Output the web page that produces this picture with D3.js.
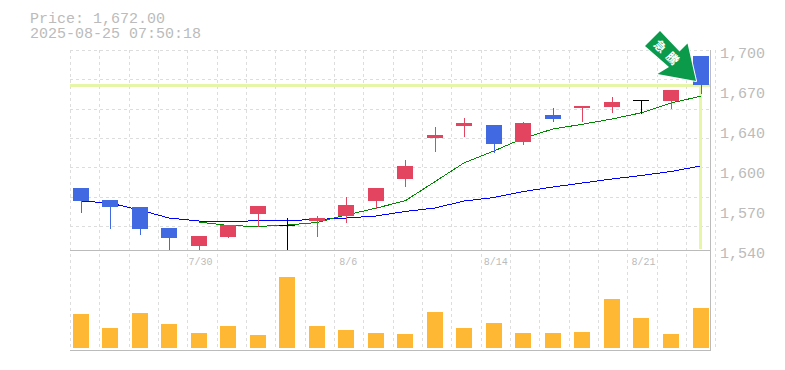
<!DOCTYPE html>
<html>
<head>
<meta charset="utf-8">
<script src="https://cdnjs.cloudflare.com/ajax/libs/d3/7.9.0/d3.min.js"></script>
<style>
html, body { margin: 0; padding: 0; background: #fff; }
text { font-family: "Liberation Mono", monospace; fill: #bbb; }
</style>
</head>
<body>
<div id="chart"></div>
<script>
const dates = ['7/24', '7/25', '7/28', '7/29', '7/30', '7/31', '8/1', '8/4', '8/5', '8/6', '8/7',
    '8/8', '8/12', '8/13', '8/14', '8/15', '8/18', '8/19', '8/20', '8/21', '8/22', '8/25'];
const opens = [1590, 1580, 1574.4, 1557.6, 1543.2, 1550.4, 1568.8, 1560, 1563.2, 1567.2, 1579.2,
    1596.8, 1629.6, 1639.2, 1640, 1626.4, 1648, 1653.6, 1654.4, 1660, 1659.2, 1695.2];
const highs = [1590, 1580, 1574.4, 1557.6, 1551.2, 1560, 1575.2, 1565.6, 1567.2, 1582.4, 1589.6,
    1612, 1638.4, 1645.6, 1640, 1642.4, 1653.6, 1655.2, 1662.4, 1660, 1668, 1695.2];
const lows = [1570.4, 1557.6, 1552.8, 1540, 1540, 1550.4, 1559.2, 1540, 1551.2, 1562.4, 1573.6,
    1591.2, 1619.2, 1631.2, 1618.4, 1624.8, 1643.2, 1643.2, 1650.4, 1650, 1653.6, 1665.6];
const closes = [1579.2, 1574.4, 1556.8, 1549.6, 1551.2, 1560, 1575.2, 1560, 1565.6, 1576, 1589.6,
    1607.2, 1632, 1641.6, 1624.8, 1641.6, 1644.8, 1655.2, 1658.4, 1660, 1668, 1672];
const maLong = [1579.2, 1577.6, 1572, 1565.6, 1563.2, 1562.4, 1563.6, 1563.6, 1564.4, 1565.6, 1567.2,
    1570.8, 1573.6, 1579.2, 1582, 1586.8, 1590.4, 1593.6, 1596.8, 1599.6, 1602.8, 1607.2];
const maShort = [null, null, null, null, 1562.4, 1559.6, 1558.8, 1560, 1562, 1568, 1573.4,
    1579.4, 1594.6, 1609.8, 1619.2, 1629.4, 1636.8, 1640.6, 1644.8, 1649.8, 1657.6, 1663];
const volumes = [34, 20, 35, 24, 15, 22, 13, 71, 22, 18, 15, 14, 36, 20, 25, 15, 15, 16, 49, 30, 14, 40];
const priceTicks = [1700, 1668, 1636, 1604, 1572, 1540];
const priceLabels = ['1,700', '1,670', '1,640', '1,600', '1,570', '1,540'];
const dateLabels = ['7/30', '8/6', '8/14', '8/21'];
const currentPrice = 1672;
const titleLines = ['Price: 1,672.00', '2025-08-25 07:50:18'];
const badgeText = ['急', '騰'];

const width = 785,
    height = 370,
    plot = {left: 70, right: 710, top: 50, bottom: 250, volBottom: 350},
    candleWidth = 16,
    gridStep = 29.33;

const upColor = '#e34460',
    downColor = '#4169e1',
    flatColor = '#000',
    axisColor = '#bbb',
    gridColor = '#ddd',
    hiliteColor = '#e5f6a8';

const svg = d3.select('#chart').append('svg')
    .attr('width', width)
    .attr('height', height)
    .style('display', 'block');

const xScale = d3.scalePoint()
    .domain(dates)
    .range([80.5, 700.5]);

const yScale = d3.scaleLinear()
    .domain([1540, 1700])
    .range([plot.bottom, plot.top]);

const volScale = d3.scaleLinear()
    .domain([0, 71])
    .range([348, 277]);

svg.append('clipPath')
    .attr('id', 'price-clip')
    .append('rect')
    .attr('x', plot.left)
    .attr('y', plot.top)
    .attr('width', plot.right - plot.left)
    .attr('height', plot.bottom - plot.top);

// grid
const grid_g = svg.append('g')
    .attr('stroke', gridColor)
    .attr('stroke-dasharray', '3,3')
    .attr('shape-rendering', 'crispEdges');

grid_g.selectAll('line.v')
    .data(d3.range(23))
    .join('line')
    .attr('class', 'v')
    .attr('x1', d => Math.round(plot.left + d * gridStep) + 0.5)
    .attr('x2', d => Math.round(plot.left + d * gridStep) + 0.5)
    .attr('y1', plot.top)
    .attr('y2', plot.volBottom);

grid_g.selectAll('line.h')
    .data(d3.range(7))
    .join('line')
    .attr('class', 'h')
    .attr('x1', plot.left)
    .attr('x2', plot.right)
    .attr('y1', d => Math.round(plot.top + d * gridStep) + 0.5)
    .attr('y2', d => Math.round(plot.top + d * gridStep) + 0.5);

// current price marker
const hilite_g = svg.append('g')
    .attr('stroke', hiliteColor)
    .attr('stroke-width', 3)
    .attr('shape-rendering', 'crispEdges');

hilite_g.append('line')
    .attr('x1', plot.left)
    .attr('x2', plot.right)
    .attr('y1', yScale(currentPrice) + 0.5)
    .attr('y2', yScale(currentPrice) + 0.5);

hilite_g.append('line')
    .attr('x1', xScale(dates[dates.length - 1]))
    .attr('x2', xScale(dates[dates.length - 1]))
    .attr('y1', yScale(currentPrice))
    .attr('y2', plot.bottom - 1);

// axes frame
const frame_g = svg.append('g')
    .attr('stroke', axisColor)
    .attr('shape-rendering', 'crispEdges');

frame_g.append('line')
    .attr('x1', plot.left).attr('x2', plot.right + 1)
    .attr('y1', plot.bottom + 0.5).attr('y2', plot.bottom + 0.5);

frame_g.append('line')
    .attr('x1', plot.left).attr('x2', plot.right + 1)
    .attr('y1', plot.volBottom + 0.5).attr('y2', plot.volBottom + 0.5);

frame_g.append('line')
    .attr('x1', plot.right + 0.5).attr('x2', plot.right + 0.5)
    .attr('y1', plot.top).attr('y2', plot.volBottom);

// volume
svg.append('g')
    .selectAll('rect')
    .data(volumes)
    .join('rect')
    .attr('x', (d, i) => Math.round(xScale(dates[i]) - candleWidth / 2))
    .attr('y', d => volScale(d))
    .attr('width', candleWidth)
    .attr('height', d => volScale(0) - volScale(d))
    .attr('fill', '#ffb833')
    .attr('shape-rendering', 'crispEdges');

// moving averages
const maLine = d3.line()
    .defined(d => d !== null)
    .x((d, i) => xScale(dates[i]))
    .y(d => yScale(d));

svg.append('path')
    .datum(maLong)
    .attr('d', maLine)
    .attr('fill', 'none')
    .attr('stroke', '#00f')
    .attr('shape-rendering', 'crispEdges');

svg.append('path')
    .datum(maShort)
    .attr('d', maLine)
    .attr('fill', 'none')
    .attr('stroke', '#080')
    .attr('shape-rendering', 'crispEdges');

// candles
function candleColor(i) {
    if (closes[i] > opens[i]) return upColor;
    return closes[i] < opens[i] ? downColor : flatColor;
}

const candle_g = svg.append('g')
    .attr('clip-path', 'url(#price-clip)')
    .attr('shape-rendering', 'crispEdges');

candle_g.selectAll('line')
    .data(dates)
    .join('line')
    .attr('x1', d => Math.round(xScale(d)) + 0.5)
    .attr('x2', d => Math.round(xScale(d)) + 0.5)
    .attr('y1', (d, i) => yScale(highs[i]))
    .attr('y2', (d, i) => yScale(lows[i]) + 1)
    .attr('stroke', (d, i) => candleColor(i));

candle_g.selectAll('rect')
    .data(dates)
    .join('rect')
    .attr('x', d => Math.round(xScale(d) - candleWidth / 2))
    .attr('y', (d, i) => yScale(Math.max(opens[i], closes[i])))
    .attr('width', candleWidth)
    .attr('height', (d, i) => Math.max(1, Math.abs(yScale(opens[i]) - yScale(closes[i]))))
    .attr('fill', (d, i) => candleColor(i));

// arrow badge, placed from the last candle
const tipX = xScale(dates[dates.length - 1]) - 4.5,
    tipY = yScale(currentPrice) - 4;

const badge_g = svg.append('g')
    .attr('transform', `translate(${tipX}, ${tipY})`);

badge_g.append('polygon')
    .attr('points', '0,0 -8.5,-37.5 -16.5,-29.5 -36,-50 -51,-35 -27,-14 -38.5,-7')
    .attr('fill', '#0a9a4a')
    .attr('stroke', '#fff')
    .attr('stroke-width', 2)
    .attr('stroke-linejoin', 'round')
    .attr('paint-order', 'stroke');

badge_g.selectAll('text')
    .data(badgeText)
    .join('text')
    .attr('transform', (d, i) => `translate(${-36 + i * 12.5}, ${-34.5 + i * 12}) rotate(45)`)
    .attr('text-anchor', 'middle')
    .attr('dy', '0.36em')
    .style('font-family', '"Noto Sans CJK JP"')
    .style('font-weight', 'bold')
    .style('font-size', '12px')
    .style('fill', '#fff')
    .text(d => d);

// labels
svg.append('g')
    .selectAll('text')
    .data(titleLines)
    .join('text')
    .attr('x', 30)
    .attr('y', (d, i) => 23 + i * 15)
    .style('font-size', '15px')
    .text(d => d);

svg.append('g')
    .selectAll('text')
    .data(priceTicks)
    .join('text')
    .attr('x', 720)
    .attr('y', d => yScale(d) + 8)
    .style('font-size', '15px')
    .text((d, i) => priceLabels[i]);

svg.append('g')
    .selectAll('text')
    .data(dateLabels)
    .join('text')
    .attr('x', d => xScale(d) + 2)
    .attr('y', 265)
    .attr('text-anchor', 'middle')
    .style('font-size', '10px')
    .text(d => d);
</script>
</body>
</html>
